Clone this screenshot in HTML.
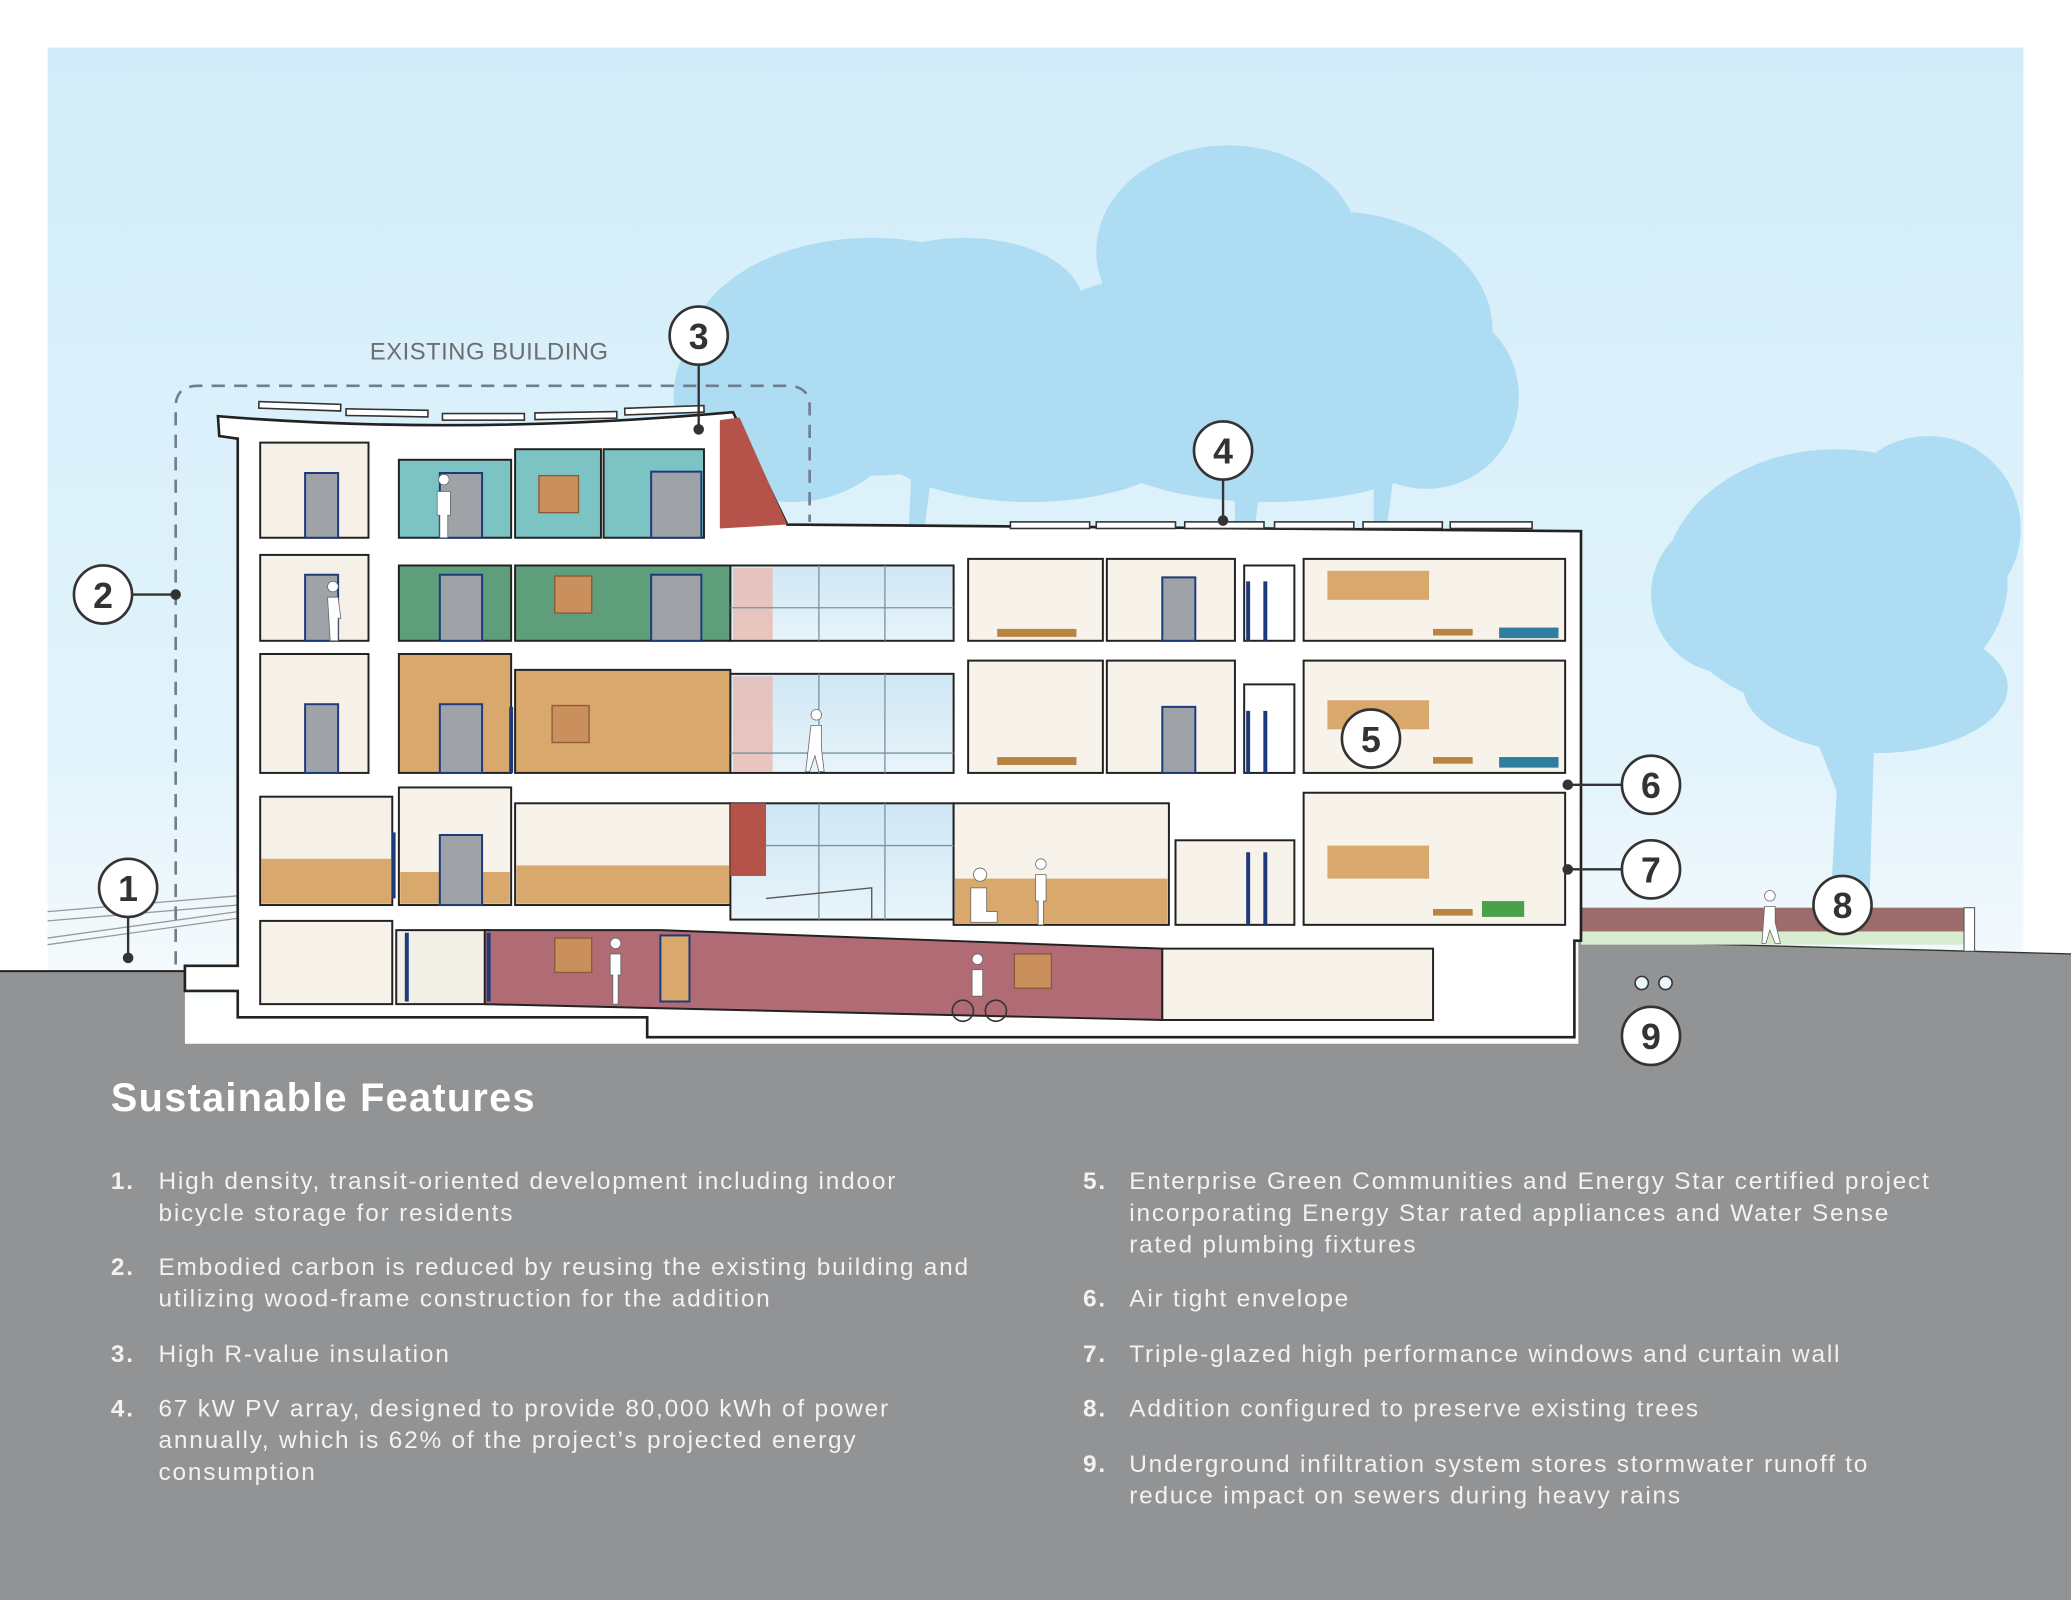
<!DOCTYPE html>
<html><head><meta charset="utf-8"><style>
html,body{margin:0;padding:0;background:#fff;}
svg{display:block;}
text{font-family:"Liberation Sans",sans-serif;}
</style></head><body>
<svg width="2071" height="1600" viewBox="0 0 1568 1211" preserveAspectRatio="none" xmlns="http://www.w3.org/2000/svg">
<defs>
<linearGradient id="sky" x1="0" y1="0" x2="0" y2="1">
<stop offset="0" stop-color="#d2edf9"/><stop offset="0.75" stop-color="#e2f3fb"/><stop offset="1" stop-color="#f7fbfd"/>
</linearGradient>
<linearGradient id="glass" x1="0" y1="0" x2="0" y2="1">
<stop offset="0" stop-color="#cfe7f4"/><stop offset="1" stop-color="#e8f4fa"/>
</linearGradient>
</defs>
<rect x="0" y="0" width="1568" height="1211" fill="#fff"/>
<rect x="36" y="36" width="1496" height="720" fill="url(#sky)"/>
<!-- trees -->
<g fill="#aedcf3">
<ellipse cx="660" cy="270" rx="140" ry="90"/>
<ellipse cx="600" cy="300" rx="90" ry="80"/>
<ellipse cx="730" cy="230" rx="90" ry="50"/>
<ellipse cx="930" cy="190" rx="100" ry="80"/>
<ellipse cx="1010" cy="250" rx="120" ry="90"/>
<ellipse cx="870" cy="280" rx="100" ry="70"/>
<ellipse cx="1080" cy="300" rx="70" ry="70"/>
<ellipse cx="780" cy="330" rx="120" ry="50"/>
<ellipse cx="960" cy="335" rx="130" ry="45"/>
<path d="M690 360 L705 360 L700 400 L688 400 Z"/>
<path d="M935 360 L955 360 L950 400 L935 400 Z"/>
<path d="M1040 360 L1055 360 L1050 400 L1040 400 Z"/>
<ellipse cx="1390" cy="440" rx="130" ry="100"/>
<ellipse cx="1460" cy="400" rx="70" ry="70"/>
<ellipse cx="1310" cy="450" rx="60" ry="60"/>
<ellipse cx="1420" cy="520" rx="100" ry="50"/>
<path d="M1395 520 L1420 520 L1415 700 L1385 700 Z"/>
<path d="M1340 470 L1355 465 L1405 600 L1395 610 Z"/>
</g>
<!-- ground -->
<path d="M0 735 L140 735 L140 790 L1195 790 L1195 712 L1568 722 L1568 1211 L0 1211 Z" fill="#929395"/>
<path d="M0 735 L140 735" stroke="#222" stroke-width="1.5"/>
<path d="M1195 712 L1568 722" stroke="#333" stroke-width="1"/>
<rect x="1197" y="687" width="290" height="20" fill="#9c6b6b"/>
<rect x="1197" y="705" width="290" height="10" fill="#d8ecd0"/>
<rect x="1487" y="687" width="8" height="33" fill="#fff" stroke="#555" stroke-width="0.8"/>
<g stroke="#999" stroke-width="1" fill="none">
<path d="M36 690 L180 678"/><path d="M36 697 L180 685"/><path d="M36 710 L180 690"/><path d="M36 715 L180 695"/>
</g>
<!-- building shell -->
<path d="M165 315 Q350 330 555 312 L596 397 L1197 402 L1197 712 L1192 712 L1192 785 L490 785 L490 770 L180 770 L180 750 L140 750 L140 731 L180 731 L180 332 L166 330 Z" fill="#fff" stroke="#222" stroke-width="2"/>
<path d="M545 318 L560 316 L596 397 L545 400 Z" fill="#b5524a"/>
<g stroke="#222" stroke-width="1.5">
<rect x="197" y="335" width="82" height="72" fill="#f5f1e8"/>
<rect x="302" y="348" width="85" height="59" fill="#7cc4c4"/>
<rect x="390" y="340" width="65" height="67" fill="#7cc4c4"/>
<rect x="457" y="340" width="76" height="67" fill="#7cc4c4"/>
<rect x="197" y="420" width="82" height="65" fill="#f5f1e8"/>
<rect x="302" y="428" width="85" height="57" fill="#5f9e7a"/>
<rect x="390" y="428" width="163" height="57" fill="#5f9e7a"/>
<rect x="553" y="428" width="169" height="57" fill="url(#glass)"/>
<rect x="733" y="423" width="102" height="62" fill="#f7f3ea"/>
<rect x="838" y="423" width="97" height="62" fill="#f7f3ea"/>
<rect x="942" y="428" width="38" height="57" fill="#fff"/>
<rect x="987" y="423" width="198" height="62" fill="#f7f3ea"/>
<rect x="197" y="495" width="82" height="90" fill="#f5f1e8"/>
<rect x="302" y="495" width="85" height="90" fill="#d9a86c"/>
<rect x="390" y="507" width="163" height="78" fill="#d9a86c"/>
<rect x="553" y="510" width="169" height="75" fill="url(#glass)"/>
<rect x="733" y="500" width="102" height="85" fill="#f7f3ea"/>
<rect x="838" y="500" width="97" height="85" fill="#f7f3ea"/>
<rect x="942" y="518" width="38" height="67" fill="#fff"/>
<rect x="987" y="500" width="198" height="85" fill="#f7f3ea"/>
<rect x="197" y="603" width="100" height="82" fill="#f5f1e8"/>
<rect x="302" y="596" width="85" height="89" fill="#f7f3ea"/>
<rect x="390" y="608" width="163" height="77" fill="#f7f3ea"/>
<rect x="553" y="608" width="169" height="88" fill="url(#glass)"/>
<rect x="722" y="608" width="163" height="92" fill="#f7f3ea"/>
<rect x="890" y="636" width="90" height="64" fill="#f7f3ea"/>
<rect x="987" y="600" width="198" height="100" fill="#f7f3ea"/>
<rect x="197" y="697" width="100" height="63" fill="#f7f3ea"/>
<rect x="300" y="704" width="70" height="56" fill="#f2efe6"/>
<path d="M367 704 L500 704 L880 718 L880 772 L367 760 Z" fill="#b06b74"/>
<rect x="880" y="718" width="205" height="54" fill="#f7f3ea"/>
</g>
<g fill="#d9a86c">
<rect x="198" y="650" width="98" height="34"/>
<rect x="391" y="655" width="161" height="29"/>
<rect x="723" y="665" width="161" height="34"/>
<rect x="303" y="660" width="83" height="24"/>
<rect x="1005" y="432" width="77" height="22"/>
<rect x="1005" y="530" width="77" height="22"/>
<rect x="1005" y="640" width="77" height="25"/>
</g>
<rect x="553" y="608" width="27" height="55" fill="#b5524a"/>
<g fill="#e8b9b0"><rect x="555" y="430" width="30" height="54" opacity="0.8"/><rect x="555" y="512" width="30" height="72" opacity="0.8"/></g>
<g stroke="#7a93a6" stroke-width="1" fill="none">
<path d="M620 428 V485 M670 428 V485 M620 510 V585 M670 510 V585 M553 460 H722 M553 570 H722 M620 608 V696 M670 608 V696 M580 640 H722"/>
<path d="M580 680 L660 672 L660 696" stroke="#555"/>
</g>
<g fill="#9fa3a8" stroke="#1d3a7a" stroke-width="1.5">
<rect x="231" y="358" width="25" height="49"/><rect x="231" y="435" width="25" height="50"/><rect x="231" y="533" width="25" height="52"/>
<rect x="333" y="358" width="32" height="49"/><rect x="333" y="435" width="32" height="50"/><rect x="333" y="533" width="32" height="52"/><rect x="333" y="632" width="32" height="53"/>
<rect x="493" y="357" width="38" height="50"/><rect x="493" y="435" width="38" height="50"/>
<rect x="880" y="437" width="25" height="48"/><rect x="880" y="535" width="25" height="50"/>
</g>
<g fill="#c9905e" stroke="#8a5a35" stroke-width="1">
<rect x="408" y="360" width="30" height="28"/><rect x="420" y="436" width="28" height="28"/><rect x="418" y="534" width="28" height="28"/>
<rect x="420" y="710" width="28" height="26"/><rect x="768" y="722" width="28" height="26"/>
</g>
<rect x="500" y="708" width="22" height="50" fill="#d9a86c" stroke="#1d3a7a" stroke-width="1.5"/>
<g stroke="#1d3a7a" stroke-width="3">
<path d="M945 440 V485 M958 440 V485 M945 538 V585 M958 538 V585 M945 645 V700 M958 645 V700 M298 630 V680 M370 706 V758 M387 535 V585 M308 706 V758"/>
</g>
<g fill="#b8843f"><rect x="755" y="476" width="60" height="6"/><rect x="755" y="573" width="60" height="6"/><rect x="1085" y="476" width="30" height="5"/><rect x="1085" y="573" width="30" height="5"/><rect x="1085" y="688" width="30" height="5"/></g>
<g fill="#2f7ea0"><rect x="1135" y="475" width="45" height="8"/><rect x="1135" y="573" width="45" height="8"/></g>
<rect x="1122" y="682" width="32" height="12" fill="#4aa14a"/>
<g fill="#fff" stroke="#666" stroke-width="0.6">
<path d="M336 367 a4 4 0 1 1 0.1 0 M331 372 h10 v18 h-2 v17 h-6 v-17 h-2 z"/>
<path d="M252 448 a4 4 0 1 1 0.1 0 M248 452 h8 l2 16 h-2 v17 h-6 z"/>
<path d="M618 545 a4 4 0 1 1 0.1 0 M614 549 h8 v18 l2 17 h-4 l-3 -12 l-4 12 h-3 z"/>
<path d="M742 667 a5 5 0 1 1 0.1 0 M735 672 h12 v18 h8 v8 h-20 z"/>
<path d="M788 658 a4 4 0 1 1 0.1 0 M784 662 h8 v20 h-2 v18 h-4 v-18 h-2 z"/>
<path d="M466 718 a4 4 0 1 1 0.1 0 M462 722 h8 v16 h-2 v22 h-4 v-22 h-2 z"/>
<path d="M740 730 a4 4 0 1 1 0.1 0 M736 734 h8 v20 h-8 z"/>
<path d="M1340 682 a4 4 0 1 1 0.1 0 M1336 686 h8 v12 l4 16 h-4 l-4 -10 l-3 10 h-3 z"/>
</g>
<g fill="none" stroke="#333" stroke-width="1.2"><circle cx="729" cy="765" r="8"/><circle cx="754" cy="765" r="8"/></g>
<g fill="#fff" stroke="#333" stroke-width="1.2">
<rect x="196" y="305" width="62" height="5" transform="rotate(2 227 307)"/>
<rect x="262" y="310" width="62" height="5" transform="rotate(1 293 312)"/>
<rect x="335" y="313" width="62" height="5"/>
<rect x="405" y="312" width="62" height="5" transform="rotate(-1 436 314)"/>
<rect x="473" y="308" width="60" height="5" transform="rotate(-2 503 310)"/>
<rect x="765" y="395" width="60" height="5"/><rect x="830" y="395" width="60" height="5"/><rect x="897" y="395" width="60" height="5"/><rect x="965" y="395" width="60" height="5"/><rect x="1032" y="395" width="60" height="5"/><rect x="1098" y="395" width="62" height="5"/>
</g>
<path d="M133 730 V308 Q133 292 150 292 H596 Q613 292 613 308 V395" fill="none" stroke="#6f7f8c" stroke-width="2" stroke-dasharray="10 7"/>
<text x="280" y="272" font-size="18" fill="#6b6e72" letter-spacing="0.4">EXISTING BUILDING</text>
<g stroke="#333" stroke-width="1.8" fill="none">
<path d="M97 694 V725"/><path d="M100 450 H133"/><path d="M529 276 V325"/><path d="M926 363 V394"/><path d="M1228 594 H1187"/><path d="M1228 658 H1187"/>
</g>
<g fill="#333"><circle cx="97" cy="725" r="4"/><circle cx="133" cy="450" r="4"/><circle cx="529" cy="325" r="4"/><circle cx="926" cy="394" r="4"/><circle cx="1187" cy="594" r="4"/><circle cx="1187" cy="658" r="4"/></g>
<g fill="#eaf6fc" stroke="#333" stroke-width="1.2"><circle cx="1243" cy="744" r="5"/><circle cx="1261" cy="744" r="5"/></g>
<g fill="#fff" stroke="#333" stroke-width="2">
<circle cx="97" cy="672" r="22"/><circle cx="78" cy="450" r="22"/><circle cx="529" cy="254" r="22"/><circle cx="926" cy="341" r="22"/><circle cx="1038" cy="559" r="22"/><circle cx="1250" cy="594" r="22"/><circle cx="1250" cy="658" r="22"/><circle cx="1395" cy="685" r="22"/><circle cx="1250" cy="784" r="22"/>
</g>
<g font-size="27" font-weight="bold" fill="#333" text-anchor="middle">
<text x="97" y="682">1</text><text x="78" y="460">2</text><text x="529" y="264">3</text><text x="926" y="351">4</text><text x="1038" y="569">5</text><text x="1250" y="604">6</text><text x="1250" y="668">7</text><text x="1395" y="695">8</text><text x="1250" y="794">9</text>
</g>
<text x="84" y="841" font-size="30" font-weight="bold" fill="#fff" letter-spacing="1">Sustainable Features</text>
<g font-size="18.5" fill="#f2f2f2" letter-spacing="1.35">
<g font-weight="bold"><text x="84" y="900">1.</text><text x="84" y="965">2.</text><text x="84" y="1031">3.</text><text x="84" y="1072">4.</text>
<text x="820" y="900">5.</text><text x="820" y="989">6.</text><text x="820" y="1031">7.</text><text x="820" y="1072">8.</text><text x="820" y="1114">9.</text></g>
<text x="120" y="900">High density, transit-oriented development including indoor</text>
<text x="120" y="924">bicycle storage for residents</text>
<text x="120" y="965">Embodied carbon is reduced by reusing the existing building and</text>
<text x="120" y="989">utilizing wood-frame construction for the addition</text>
<text x="120" y="1031">High R-value insulation</text>
<text x="120" y="1072">67 kW PV array, designed to provide 80,000 kWh of power</text>
<text x="120" y="1096">annually, which is 62% of the project’s projected energy</text>
<text x="120" y="1120">consumption</text>
<text x="855" y="900">Enterprise Green Communities and Energy Star certified project</text>
<text x="855" y="924">incorporating Energy Star rated appliances and Water Sense</text>
<text x="855" y="948">rated plumbing fixtures</text>
<text x="855" y="989">Air tight envelope</text>
<text x="855" y="1031">Triple-glazed high performance windows and curtain wall</text>
<text x="855" y="1072">Addition configured to preserve existing trees</text>
<text x="855" y="1114">Underground infiltration system stores stormwater runoff to</text>
<text x="855" y="1138">reduce impact on sewers during heavy rains</text>
</g>
</svg>
</body></html>
